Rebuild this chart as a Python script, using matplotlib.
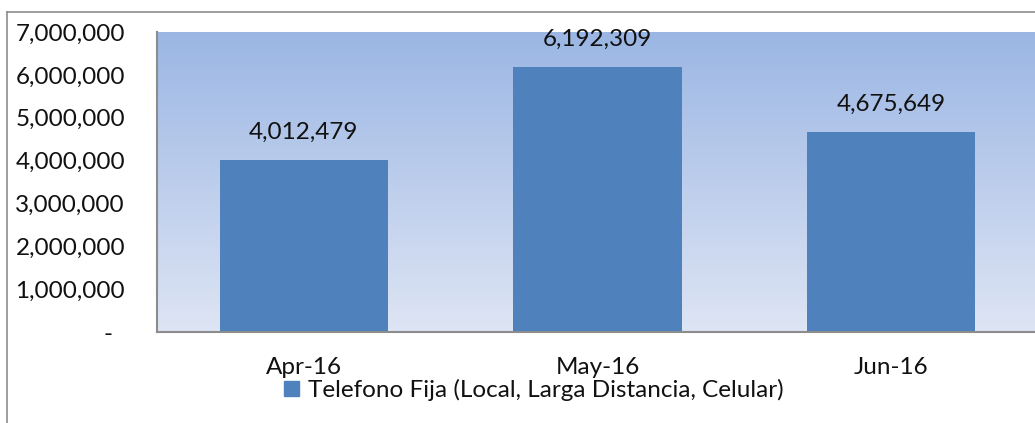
import numpy as np
import matplotlib.pyplot as plt
from matplotlib.ticker import FuncFormatter
from matplotlib.lines import Line2D
from matplotlib.patches import Patch

months = ['Apr-16', 'May-16', 'Jun-16']
totals = [4012479, 6192309, 4675649]
series_name = 'Telefono Fija (Local, Larga Distancia, Celular)'

plt.rcParams['font.family'] = ['Lato', 'DejaVu Sans']

fig = plt.figure( figsize = ( 10.35, 4.23 ), dpi = 100 )
ax = fig.add_axes( [157 / 1035, 91 / 423, 881 / 1035, 300 / 423] )

# Gradient fill of the plot area, dark blue at top to pale at bottom
top = np.array( [155, 182, 228] ) / 255
bottom = np.array( [222, 229, 244] ) / 255
t = np.linspace( 0, 1, 256 )[:, None]
grad = ( top * ( 1 - t ) + bottom * t ).reshape( 256, 1, 3 )
ax.imshow( grad, extent = [0, 1, 0, 1], transform = ax.transAxes, aspect = 'auto', zorder = 0 )

x = np.arange( len( months ) )
bars = ax.bar( x, totals, width = 0.574, color = '#4F81BD', zorder = 2 )
ax.set_xlim( -0.5, len( months ) - 0.5 )
ax.set_ylim( 0, 7000000 )
ax.set_yticks( range( 0, 7000001, 1000000 ) )

for b, v in zip( bars, totals ) :
	ax.annotate( '{:,}'.format( v ), ( b.get_x() + b.get_width() / 2, v ), xytext = ( 0, 17 ),
		textcoords = 'offset pixels', ha = 'center', va = 'bottom', fontsize = 17.5, color = '#111111' )

def fmt( v, pos ) :
	if v == 0 :
		return '-  '
	return '{:,.0f}'.format( v )

ax.yaxis.set_major_formatter( FuncFormatter( fmt ) )
ax.set_xticks( x )
ax.set_xticklabels( months )
ax.tick_params( axis = 'y', length = 0, pad = 23, labelsize = 17.5, labelcolor = '#111111' )
ax.tick_params( axis = 'x', length = 0, pad = 18, labelsize = 17.5, labelcolor = '#111111' )

for s in ['top', 'right'] :
	ax.spines[s].set_visible( False )
for s in ['left', 'bottom'] :
	ax.spines[s].set_color( '#8c8c8c' )
	ax.spines[s].set_linewidth( 1.5 )
	ax.spines[s].set_zorder( 3 )

# Outer chart frame (cropped on right and bottom)
fy = 1 - 12 / 423
fx = 7 / 1035
fig.add_artist( Line2D( [fx, 1], [fy, fy], color = '#8c8c8c', lw = 1.2 ) )
fig.add_artist( Line2D( [fx, fx], [0, fy], color = '#8c8c8c', lw = 1.2 ) )

fig.legend( handles = [Patch( color = '#4F81BD', label = series_name )], loc = 'center',
	bbox_to_anchor = ( 534 / 1035, 1 - 390 / 423 ), frameon = False, fontsize = 17.5,
	handlelength = 0.62, handleheight = 0.62, handletextpad = 0.35, borderpad = 0, labelcolor = '#111111' )

fig.savefig( 'out.png', dpi = 100 )
